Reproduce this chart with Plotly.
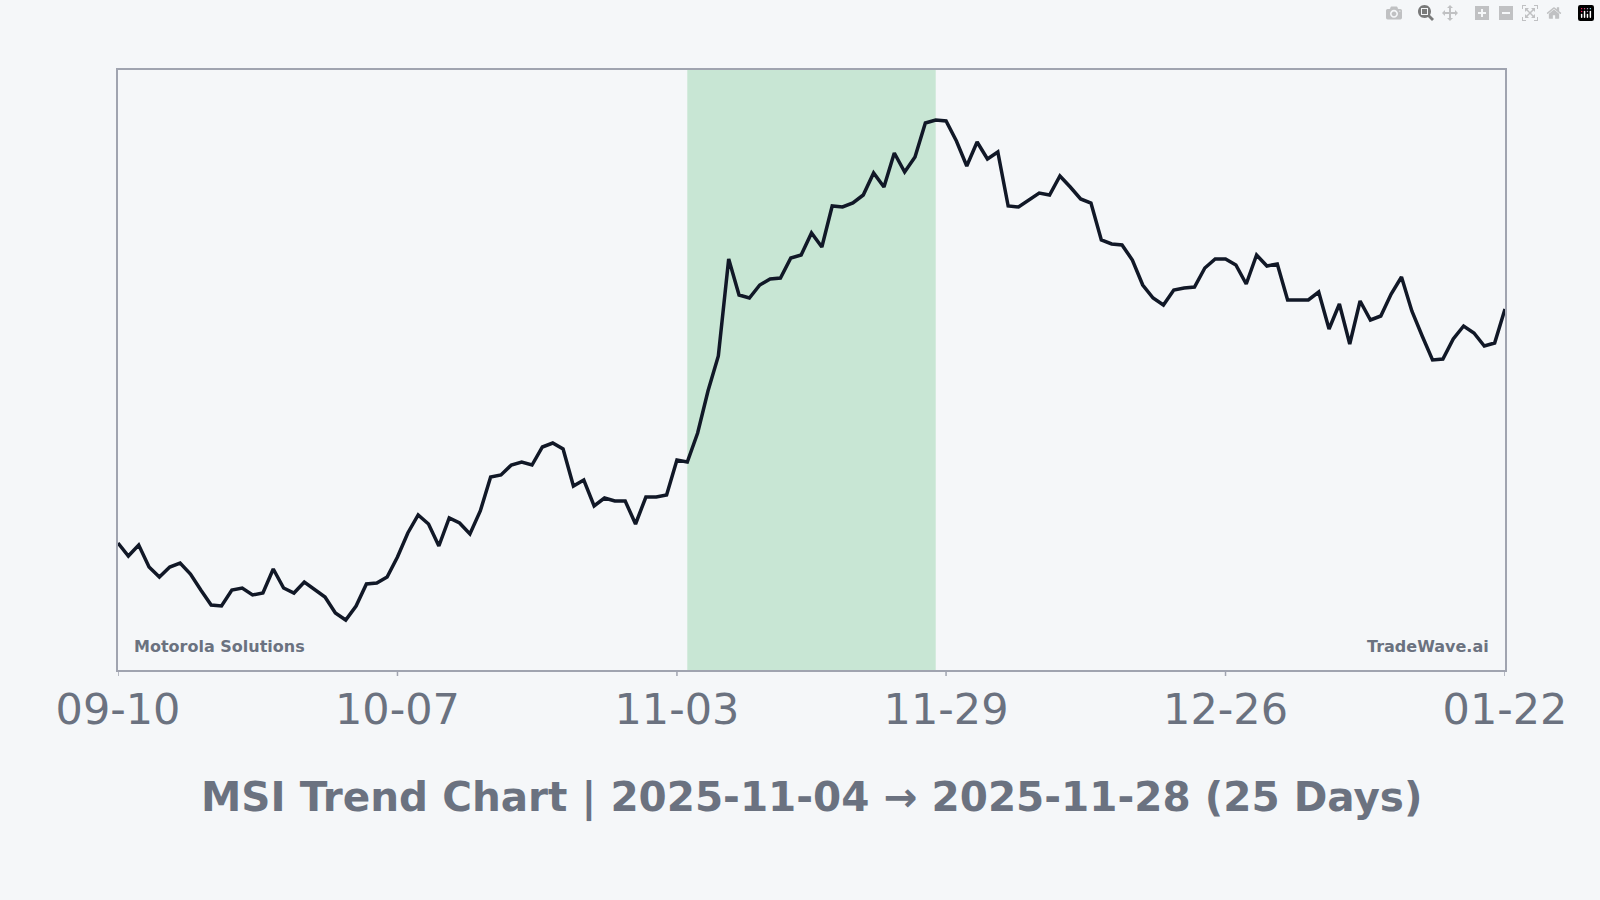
import pandas as pd
import plotly.graph_objects as go

prices = [372.7,371.4,372.5,370.3,369.3,370.3,370.7,369.6,368.0,366.5,366.4,368.0,368.2,367.5,367.7,370.1,368.2,367.7,368.8,368.1,
367.3,365.7,365.0,366.4,368.6,368.7,369.3,371.3,373.7,375.5,374.6,372.4,375.2,374.7,373.6,375.9,379.3,379.5,380.5,380.8,
380.5,382.3,382.7,382.1,378.4,379.0,376.4,377.2,376.9,376.9,374.6,377.3,377.3,377.5,381.0,380.8,383.7,387.9,391.4,401.1,
397.5,397.2,398.5,399.1,399.2,401.2,401.5,403.7,402.3,406.4,406.3,406.7,407.5,409.7,408.3,411.7,409.8,411.3,414.7,415.0,
414.9,412.9,410.4,412.8,411.1,411.8,406.4,406.3,407.0,407.7,407.5,409.4,408.3,407.1,406.7,403.0,402.6,402.5,401.0,398.5,
397.2,396.5,398.0,398.2,398.3,400.2,401.1,401.1,400.5,398.6,401.5,400.4,400.6,397.0,397.0,397.0,397.8,394.1,396.6,392.6,
396.9,395.0,395.4,397.6,399.3,395.9,393.4,391.0,391.1,393.1,394.4,393.7,392.4,392.7,396.1]
dates = pd.date_range("2025-09-10", periods=len(prices), freq="D")
tick_vals = ["2025-09-10", "2025-10-07", "2025-11-03", "2025-11-29", "2025-12-26", "2026-01-22"]
tick_text = ["09-10", "10-07", "11-03", "11-29", "12-26", "01-22"]
hl_start, hl_end = "2025-11-04", "2025-11-28"
title = "MSI Trend Chart | 2025-11-04 → 2025-11-28 (25 Days)"

fig = go.Figure(go.Scatter(x=dates, y=prices, mode="lines",
                           line=dict(color="#111827", width=3.5), hoverinfo="skip"))
fig.add_vrect(x0=hl_start, x1=hl_end, fillcolor="#c8e6d4", opacity=1, line_width=0, layer="below")
for t in tick_vals:
    fig.add_shape(type="line", x0=t, x1=t, xref="x", yref="paper", y0=0, y1=-0.01,
                  line=dict(color="#a0a4b0", width=1.5))
fig.update_layout(
    width=1600, height=900, paper_bgcolor="#f5f7f9", plot_bgcolor="#f5f7f9",
    margin=dict(l=118, r=95, t=70, b=230), showlegend=False,
    font=dict(family="DejaVu Sans", color="#6b7280"),
    xaxis=dict(range=[tick_vals[0], tick_vals[-1]], tickvals=tick_vals, ticktext=tick_text,
               tickfont=dict(size=43, color="#6b7280"), ticks="", ticklabelstandoff=0,
               showgrid=False, zeroline=False,
               showline=True, linecolor="#a0a4b0", linewidth=2, mirror=True),
    yaxis=dict(range=[360, 420], showticklabels=False, showgrid=False, zeroline=False,
               showline=True, linecolor="#a0a4b0", linewidth=2, mirror=True, ticks=""),
    annotations=[
        dict(text="Motorola Solutions", x=0.01, y=0.02, xref="paper", yref="paper",
             xanchor="left", yanchor="bottom", showarrow=False,
             font=dict(size=16, color="#6b7280", family="DejaVu Sans", weight="bold")),
        dict(text="TradeWave.ai", x=0.99, y=0.02, xref="paper", yref="paper",
             xanchor="right", yanchor="bottom", showarrow=False,
             font=dict(size=16, color="#6b7280", family="DejaVu Sans", weight="bold")),
        dict(text="<b>" + title + "</b>", x=0.5, y=-0.212, xref="paper", yref="paper",
             xanchor="center", yanchor="middle", showarrow=False,
             font=dict(size=40.5, color="#6b7280", family="DejaVu Sans")),
    ],
)
fig.write_html("out.html")
with open("out.html", encoding="utf-8") as f:
    html = f.read()
html = html.replace("<body>", '<body style="margin:0;overflow:hidden;background:#f5f7f9">', 1)
with open("out.html", "w", encoding="utf-8") as f:
    f.write(html)
